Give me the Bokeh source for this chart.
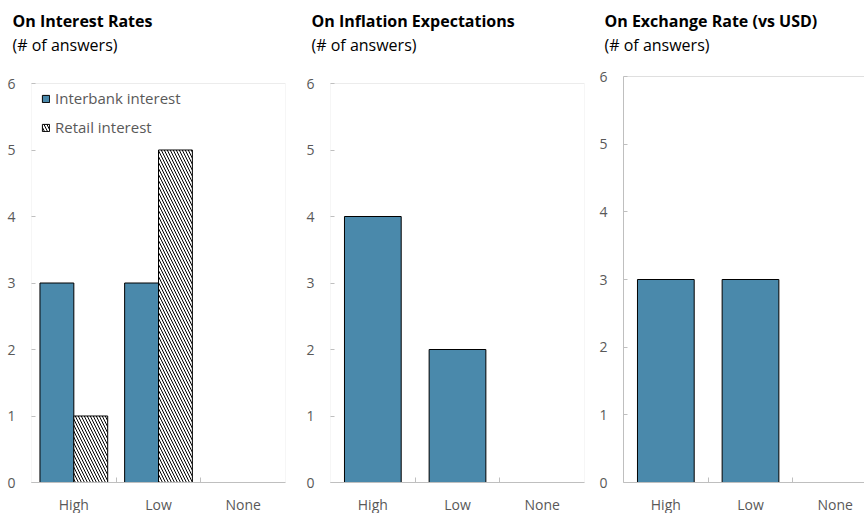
from bokeh.plotting import figure
from bokeh.models import (Range1d, FixedTicker, ColumnDataSource, Legend, LegendItem,
                          LinearAxis, Span, Title, BoxAnnotation)
from bokeh.layouts import row
from bokeh.transform import dodge
from bokeh.embed import file_html
from bokeh.resources import INLINE

categories = ["High", "Low", "None"]
interbank = [3, 3, 0]
retail = [1, 5, 0]
inflation = [4, 2, 0]
exchange = [3, 3, 0]
y_ticks = [0, 1, 2, 3, 4, 5, 6]

titles = ["On Interest Rates", "On Inflation Expectations", "On Exchange Rate (vs USD)"]
subtitle = "(# of answers)"

BLUE = "#4A89AB"
GRID = "#BFBFBF"
TXT = "#595959"
FONT = "Open Sans"

FRAME_H = 406      # common frame height (panel 3 reference frame)
BORDER_T = 76


def make_fig(title, frame_w, border_l, border_r, x_end, y_end, spacer):
    p = figure(frame_width=frame_w, frame_height=FRAME_H,
               min_border_left=border_l, min_border_right=border_r,
               min_border_top=BORDER_T, min_border_bottom=31,
               x_range=Range1d(0, x_end), y_range=Range1d(0, y_end),
               output_backend="svg", toolbar_location=None,
               x_axis_type=None, y_axis_type=None)
    p.title.text = title
    p.title.text_font = FONT
    p.title.text_font_size = "16px"
    p.title.text_font_style = "bold"
    p.title.text_color = "black"
    p.title.offset = -19
    p.title.standoff = 0
    # spacer between subtitle and frame
    p.add_layout(Title(text=" ", text_font_size="1px", standoff=spacer), "above")
    p.add_layout(Title(text=subtitle, text_font=FONT, text_font_size="16px",
                       text_font_style="normal", text_color="black", offset=-19,
                       standoff=0), "above")

    centers = [i + 0.5 for i in range(len(categories))]
    xax = LinearAxis(ticker=FixedTicker(ticks=centers, minor_ticks=[1, 2]),
                     major_label_overrides={c: n for c, n in zip(centers, categories)})
    xax.major_tick_in = 0
    xax.major_tick_out = 0
    xax.minor_tick_in = 5
    xax.minor_tick_out = 0
    xax.minor_tick_line_color = GRID
    xax.axis_line_color = GRID
    xax.major_label_text_font = FONT
    xax.major_label_text_font_size = "14px"
    xax.major_label_text_color = TXT
    xax.major_label_standoff = 12
    p.add_layout(xax, "below")

    yax = LinearAxis(ticker=FixedTicker(ticks=y_ticks, minor_ticks=[]))
    yax.major_tick_in = 4
    yax.major_tick_out = 0
    yax.major_tick_line_color = GRID
    yax.axis_line_color = GRID
    yax.major_label_text_font = FONT
    yax.major_label_text_font_size = "14px"
    yax.major_label_text_color = TXT
    yax.major_label_standoff = 16
    p.add_layout(yax, "left")

    p.xgrid.visible = False
    p.ygrid.visible = False
    p.outline_line_color = None
    p.background_fill_color = "white"
    p.border_fill_color = "white"
    return p, centers, yax


# panels 1 and 2: plot box top sits 7px below the shared frame top
y_end12 = 6 * FRAME_H / 399

# Panel 1
p1, c1, y1 = make_fig(titles[0], 254, 31, 14, 3, y_end12, 18)
y1.axis_line_color = None
p1.add_layout(BoxAnnotation(left=0, right=3, bottom=0, top=6, fill_alpha=0,
                            line_color=GRID, line_width=1))
src1a = ColumnDataSource(dict(x=[c for c, v in zip(c1, interbank) if v > 0],
                              top=[v for v in interbank if v > 0]))
src1b = ColumnDataSource(dict(x=[c for c, v in zip(c1, retail) if v > 0],
                              top=[v for v in retail if v > 0]))
r1 = p1.vbar(x=dodge("x", -0.2), top="top", width=0.4, bottom=0, source=src1a,
             fill_color=BLUE, line_color="black", line_width=1)
r2 = p1.vbar(x=dodge("x", 0.2), top="top", width=0.4, bottom=0, source=src1b,
             fill_color="white", line_color="black", line_width=1,
             hatch_pattern="\\", hatch_color="black", hatch_scale=6, hatch_weight=1)
leg = Legend(items=[LegendItem(label="Interbank interest", renderers=[r1]),
                    LegendItem(label="Retail interest", renderers=[r2])],
             location=(10, 345), border_line_color=None, background_fill_alpha=0,
             margin=0, padding=0, spacing=9, glyph_width=9, glyph_height=9,
             label_text_font=FONT, label_text_font_size="15px", label_text_color=TXT,
             label_standoff=5)
p1.add_layout(leg, "center")

# Panel 2
p2, c2, y2 = make_fig(titles[1], 254, 31, 8, 3, y_end12, 18)
y2.axis_line_color = None
p2.add_layout(BoxAnnotation(left=0, right=3, bottom=0, top=6, fill_alpha=0,
                            line_color=GRID, line_width=1))
src2 = ColumnDataSource(dict(x=[c for c, v in zip(c2, inflation) if v > 0],
                             top=[v for v in inflation if v > 0]))
p2.vbar(x="x", top="top", width=0.67, bottom=0, source=src2,
        fill_color=BLUE, line_color="black", line_width=1)

# Panel 3 (cut off at right edge)
fw3 = 241
p3, c3, y3 = make_fig(titles[2], fw3, 31, 0, 3 * fw3 / 254, 6, 18)
p3.add_layout(Span(location=6, dimension="width", line_color=GRID, line_width=1))
src3 = ColumnDataSource(dict(x=[c for c, v in zip(c3, exchange) if v > 0],
                             top=[v for v in exchange if v > 0]))
p3.vbar(x="x", top="top", width=0.67, bottom=0, source=src3,
        fill_color=BLUE, line_color="black", line_width=1)

layout = row(p1, p2, p3, spacing=0)
open("out.html", "w").write(file_html(layout, INLINE))
